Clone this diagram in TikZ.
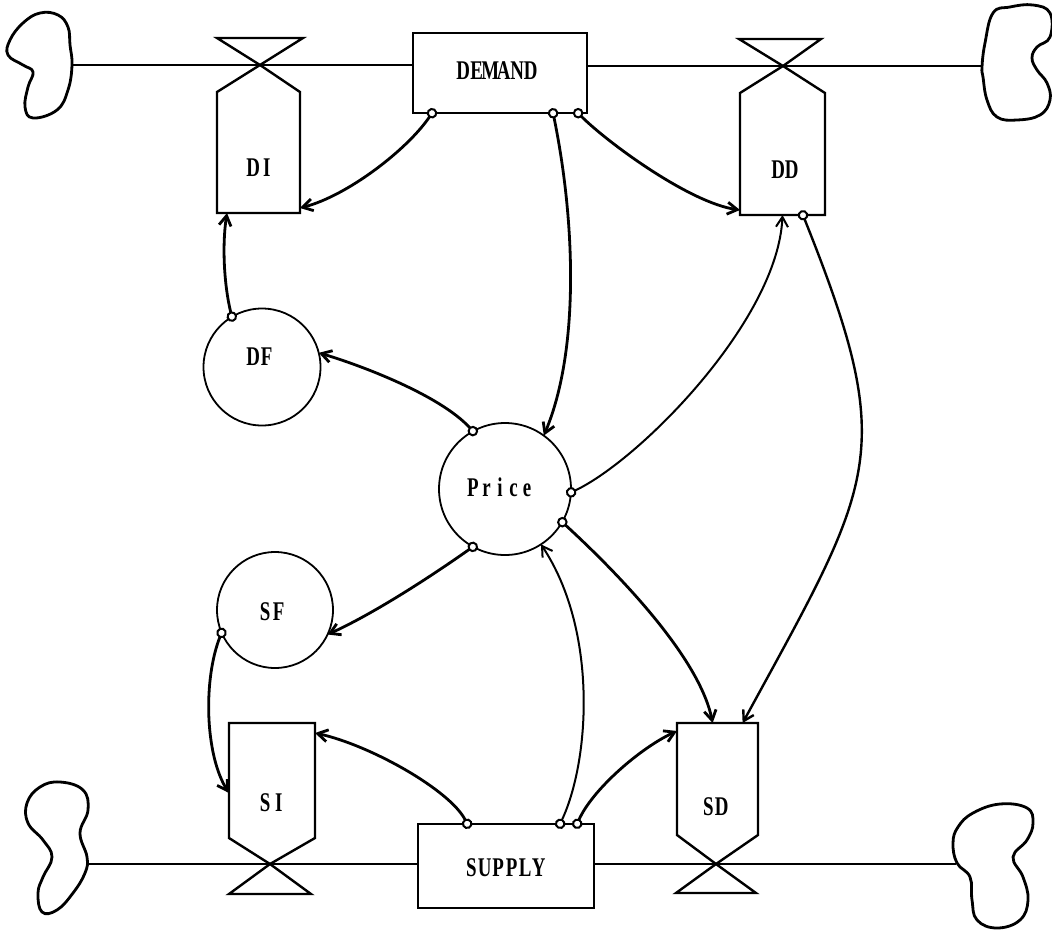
\documentclass[tikz,border=0pt]{standalone}
\usepackage{fontspec}
\newfontfamily\lblfont[FakeStretch=0.7]{Liberation Serif}
\newcommand\mchar[1]{\makebox[13.5pt]{#1}}
\usetikzlibrary{arrows.meta,calc}
\begin{document}
\begin{tikzpicture}[x=1pt,y=-1pt,
  lblfontsty/.style={font=\lblfont\bfseries\fontsize{27}{27}\selectfont},
  lbl/.style={lblfontsty, inner sep=0pt},
  stockbox/.style={draw, line width=2pt, rectangle, inner sep=0pt, outer sep=0pt, lblfontsty},
  ratebox/.style={rectangle, inner sep=0pt, outer sep=0pt},
  rateline/.style={line width=2.4pt, line join=miter},
  auxnode/.style={draw, circle, line width=1.8pt, inner sep=0pt, outer sep=0pt},
  flowline/.style={line width=2pt},
  cloudline/.style={line width=2.8pt},
  conn/.style={line width=2.8pt, {Circle[length=10.5pt,fill=white,line width=2pt]}-{Straight Barb[length=10pt,width=12pt]}, shorten <=-5pt},
  thinconn/.style={conn, line width=2pt}
]
\useasboundingbox[fill=white] (0,0) rectangle (1052,930);

% clouds
\draw[cloudline] plot[smooth cycle, tension=0.7] coordinates {(40,13) (58,15) (68,27) (70,45) (72,65) (68,90) (57,110) (33,118) (25,107) (28,87) (33,72) (23,65) (8,55) (10,40) (23,23)};
\draw[cloudline] plot[smooth cycle, tension=0.7] coordinates {(993,13) (1010,7) (1033,5) (1050,13) (1050,37) (1037,47) (1032,58) (1037,70) (1047,83) (1050,100) (1040,115) (1017,120) (997,117) (987,100) (983,77) (982,67) (985,43)};
\draw[cloudline] plot[smooth cycle, tension=0.7] coordinates {(60,782) (83,790) (88,810) (80,833) (87,857) (85,873) (73,893) (57,910) (42,912) (38,893) (43,877) (52,857) (43,840) (28,823) (27,803) (40,787)};
\draw[cloudline] plot[smooth cycle, tension=0.7] coordinates {(973,813) (1000,804) (1027,808) (1033,823) (1027,840) (1013,857) (1023,877) (1028,900) (1020,920) (997,928) (977,920) (972,900) (970,877) (957,863) (953,843) (958,827)};
\coordinate (cl1) at (72,65);
\coordinate (cl2) at (982,66);
\coordinate (cl3) at (88,864);
\coordinate (cl4) at (956,864);

% stocks
\node[stockbox, minimum width=174pt, minimum height=80pt] (demand) at (500,73) {};
\node[lbl] (demandt) at (497,71) {\mchar{D}\mchar{E}\mchar{M}\mchar{A}\mchar{N}\mchar{D}};
\node[stockbox, minimum width=176pt, minimum height=84pt] (supply) at (506,866) {};
\node[lbl] (supplyt) at (505,868) {\mchar{S}\mchar{U}\mchar{P}\mchar{P}\mchar{L}\mchar{Y}};

% flow lines
\draw[flowline] (cl1) -- (cl1 -| demand.west);
\draw[flowline] (cl2 -| demand.east) -- (cl2);
\draw[flowline] (cl3) -- (cl3 -| supply.west);
\draw[flowline] (cl4 -| supply.east) -- (cl4);

% rates
\node[ratebox, minimum width=83pt, minimum height=121pt] (di) at (258.5,152.5) {};
\coordinate (dix) at (260,65);
\draw[rateline] (di.south west) -- (di.north west) -- (dix) -- (di.north east) -- (di.south east) -- cycle;
\draw[rateline] (dix) -- (217,38) -- (303,38) -- cycle;
\node[lbl] (dit) at (260,168) {\mchar{D}\mchar{I}};

\node[ratebox, minimum width=85pt, minimum height=122pt] (dd) at (782.5,154) {};
\coordinate (ddx) at (783,66);
\draw[rateline] (dd.south west) -- (dd.north west) -- (ddx) -- (dd.north east) -- (dd.south east) -- cycle;
\draw[rateline] (ddx) -- (739,39) -- (821,39) -- cycle;
\node[lbl] (ddt) at (785,170) {\mchar{D}\mchar{D}};

\node[ratebox, minimum width=86pt, minimum height=115pt] (si) at (272,780.5) {};
\coordinate (six) at (270,864);
\draw[rateline] (si.north west) -- (si.south west) -- (six) -- (si.south east) -- (si.north east) -- cycle;
\draw[rateline] (six) -- (229,894) -- (311,894) -- cycle;
\node[lbl] (sit) at (272,803) {\mchar{S}\mchar{I}};

\node[ratebox, minimum width=81pt, minimum height=112pt] (sd) at (717.5,779) {};
\coordinate (sdx) at (716,864);
\draw[rateline] (sd.north west) -- (sd.south west) -- (sdx) -- (sd.south east) -- (sd.north east) -- cycle;
\draw[rateline] (sdx) -- (676,893) -- (756,893) -- cycle;
\node[lbl] (sdt) at (715,807) {\mchar{S}\mchar{D}};

% auxiliaries
\node[auxnode, minimum size=117pt] (df) at (262,367) {};
\node[lbl] (dft) at (260,357) {\mchar{D}\mchar{F}};
\node[auxnode, minimum size=132pt] (price) at (505,489) {};
\node[lbl] (pricet) at (500,487) {\mchar{P}\mchar{r}\mchar{i}\mchar{c}\mchar{e}};
\node[auxnode, minimum size=116pt] (sf) at (275,610) {};
\node[lbl] (sft) at (272,612) {\mchar{S}\mchar{F}};

% connectors
\draw[conn] ($(demand.south west)!0.11!(demand.south east)$) .. controls (407,150) and (347,196) .. ($(di.south east)+(0,-5)$);
\draw[conn] ($(demand.south west)!0.805!(demand.south east)$) .. controls (575,220) and (580,350) .. (price.54);
\draw[conn] ($(demand.south west)!0.948!(demand.south east)$) .. controls (608,143) and (690,203) .. ($(dd.south west)+(0,-5)$);
\draw[conn] (df.121) .. controls (224,285) and (222,245) .. ($(di.south west)+(10,0)$);
\draw[conn] (price.119) .. controls (440,395) and (360,365) .. (df.14);
\draw[conn] (price.241) .. controls (433,575) and (375,613) .. (sf.335);
\draw[conn] (sf.203) .. controls (203,680) and (205,755) .. ($(si.north west)+(0,70)$);
\draw[conn] ($(supply.north west)!0.28!(supply.north east)$) .. controls (450,790) and (370,745) .. ($(si.north east)+(0,10)$);
\draw[thinconn] ($(supply.north west)!0.807!(supply.north east)$) .. controls (590,760) and (598,630) .. (price.303);
\draw[conn] ($(supply.north west)!0.904!(supply.north east)$) .. controls (592,790) and (640,748) .. ($(sd.north west)+(0,8)$);
\draw[conn] (price.330) .. controls (598,555) and (698,650) .. ($(sd.north west)!0.44!(sd.north east)$);
\draw[thinconn] (price.357) .. controls (640,460) and (778,320) .. ($(dd.south west)!0.5!(dd.south east)$);
\draw[conn, line width=2.4pt] ($(dd.south west)!0.74!(dd.south east)$) .. controls (899,455) and (875,480) .. ($(sd.north west)!0.81!(sd.north east)$);
\end{tikzpicture}
\end{document}
